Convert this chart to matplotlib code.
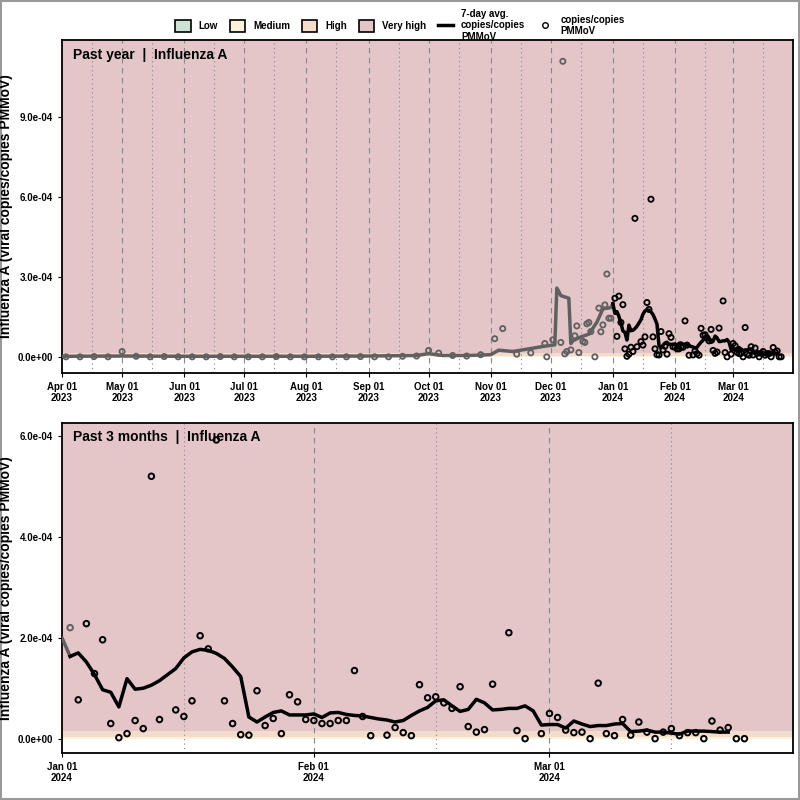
import matplotlib
matplotlib.use("Agg")
import matplotlib.pyplot as plt
import matplotlib.dates as mdates
from matplotlib.patches import Patch
from matplotlib.lines import Line2D
import numpy as np
import pandas as pd

plt.rcParams['font.family'] = ['Liberation Sans', 'DejaVu Sans']
plt.rcParams['font.weight'] = 'bold'

# ---- data: last 3 months (days after 2024-01-01) ----
pt_day = [1,3,2,5,4,6,7,8,9,10,11,12,14,15,16,17,18,19,20,21,22,23,24,25,26,27,28,29,30,31,32,33,34,35,36,37,38,40,41,
          42,43,44,45,46,47,48,49,50,51,52,53,55,56,57,59,60,61,62,63,64,65,66,67,68,69,70,71,72,73,74,75,76,77,78,79,80,81,82,83,84]
pt_val = [2.2,2.28,0.77,1.96,1.29,0.3,0.02,0.1,0.36,0.2,5.2,0.38,0.57,0.44,0.75,2.04,1.78,5.92,0.75,0.3,0.08,0.07,0.95,0.26,0.4,0.1,0.87,0.73,0.38,0.36,0.3,0.3,0.36,0.36,1.35,0.44,0.06,0.07,0.22,
          0.12,0.06,1.07,0.81,0.83,0.71,0.6,1.03,0.24,0.13,0.18,1.08,2.1,0.16,0.0,0.1,0.5,0.42,0.17,0.12,0.13,0.0,1.1,0.1,0.06,0.38,0.07,0.33,0.13,0.0,0.13,0.2,0.06,0.12,0.12,0.0,0.35,0.17,0.22,0.0,0.0]
avg_val = [2.0,1.63,1.7,1.52,1.27,0.97,0.92,0.63,1.19,0.98,1.0,1.06,1.15,1.27,1.39,1.6,1.72,1.77,1.75,1.69,1.59,1.42,1.23,0.43,0.33,0.43,0.52,0.55,0.47,0.47,0.47,0.49,0.42,0.51,0.52,0.48,0.46,0.45,0.42,0.39,0.37,0.33,
           0.36,0.46,0.55,0.62,0.75,0.77,0.65,0.54,0.58,0.78,0.71,0.57,0.58,0.6,0.6,0.65,0.55,0.27,0.28,0.28,0.21,0.35,0.29,0.24,0.26,0.26,0.29,0.3,0.14,0.15,0.17,0.13,0.13,0.11,0.09,0.15,0.15,0.15,0.14,0.13,0.13]

# ---- data: earlier year (grey) ----
early_pt_dates = ["2023-04-03","2023-04-10","2023-04-17","2023-04-24","2023-05-01","2023-05-08","2023-05-15","2023-05-22","2023-05-29",
                  "2023-06-05","2023-06-12","2023-06-19","2023-06-26","2023-07-03","2023-07-10","2023-07-17","2023-07-24","2023-07-31",
                  "2023-08-07","2023-08-14","2023-08-21","2023-08-28","2023-09-04","2023-09-11","2023-09-18","2023-09-25","2023-10-01",
                  "2023-10-06","2023-10-13","2023-10-20","2023-10-27","2023-11-03","2023-11-07","2023-11-14","2023-11-21","2023-11-28",
                  "2023-11-29","2023-12-02","2023-12-06","2023-12-07","2023-12-08","2023-12-09","2023-12-11","2023-12-13","2023-12-14",
                  "2023-12-15","2023-12-17","2023-12-18","2023-12-19","2023-12-20","2023-12-21","2023-12-23","2023-12-25","2023-12-26",
                  "2023-12-27","2023-12-28","2023-12-29","2023-12-30","2023-12-31"]
early_pt_val = [0.0,0.0,0.01,0.0,0.2,0.02,0.0,0.01,0.0,0.0,0.0,0.01,0.0,0.0,0.0,0.01,0.0,0.0,0.0,0.0,0.0,0.01,0.0,0.0,0.02,0.03,0.24,
                0.14,0.05,0.03,0.08,0.68,1.06,0.1,0.15,0.5,0.0,0.64,0.54,11.1,0.11,0.2,0.26,0.79,1.16,0.16,0.58,0.54,1.24,1.29,0.95,0.0,
                1.83,0.94,1.2,1.95,3.11,1.45,1.45]
early_avg_dates = ["2023-04-01","2023-05-01","2023-06-01","2023-07-01","2023-08-01","2023-09-01","2023-09-25","2023-10-01","2023-10-08",
                   "2023-10-20","2023-11-01","2023-11-05","2023-11-12","2023-11-20","2023-11-28","2023-12-03","2023-12-04","2023-12-05",
                   "2023-12-06","2023-12-10","2023-12-11","2023-12-12","2023-12-16","2023-12-20","2023-12-24","2023-12-27","2023-12-31","2024-01-01"]
early_avg_val = [0.02,0.03,0.02,0.02,0.02,0.03,0.05,0.12,0.05,0.05,0.08,0.25,0.2,0.3,0.4,0.45,2.58,2.45,2.3,2.2,0.5,0.6,0.75,0.85,1.3,1.8,1.85,2.0]

band_edges = [0.0, 0.03, 0.16, 100.0]   # medium, high, very high (x1e-4)
band_colors = {"Low": "#cfe3d4", "Medium": "#fbf0d8", "High": "#f4dccc", "Very high": "#e4c6c9"}

S = 1e-4
jan1 = pd.Timestamp("2024-01-01")
pt_dates = [jan1 + pd.Timedelta(days=d) for d in pt_day]
avg_dates = [jan1 + pd.Timedelta(days=d) for d in range(len(avg_val))]
e_pt = pd.to_datetime(early_pt_dates)
e_avg = pd.to_datetime(early_avg_dates)

fig = plt.figure(figsize=(8, 8), dpi=100)
fig.patch.set_edgecolor("#999999"); fig.patch.set_linewidth(1.5)

def bands(ax):
    ax.axhspan(band_edges[0]*S, band_edges[1]*S, color=band_colors["Medium"], zorder=0, lw=0)
    ax.axhspan(band_edges[1]*S, band_edges[2]*S, color=band_colors["High"], zorder=0, lw=0)
    ax.axhspan(band_edges[2]*S, band_edges[3]*S, color=band_colors["Very high"], zorder=0, lw=0)

def style(ax):
    for s in ax.spines.values():
        s.set_linewidth(1.3)
    ax.tick_params(axis='both', labelsize=7, length=3)
    ax.yaxis.set_major_formatter(plt.FuncFormatter(lambda v, p: f"{v:.1e}"))
    ax.set_ylabel("Influenza A (viral copies/copies PMMoV)", fontsize=10, fontweight='bold', labelpad=3)

# top panel
ax1 = fig.add_axes([0.0775, 0.534, 0.914, 0.416])
bands(ax1)
start, end = pd.Timestamp("2023-04-01"), pd.Timestamp("2024-03-31")
months = pd.date_range(start, "2024-03-01", freq="MS")
for m in months[1:]:
    ax1.axvline(m, color="#888888", ls=(0, (5, 4)), lw=0.8, zorder=1)
for m in months:
    ax1.axvline(m + pd.Timedelta(days=15), color="#888888", ls=(0, (1, 3)), lw=0.8, zorder=1)
ax1.plot(e_avg, np.array(early_avg_val)*S, color="#606060", lw=2.5, zorder=3)
ax1.plot(avg_dates, np.array(avg_val)*S, color="black", lw=2.5, zorder=4)
ax1.scatter(e_pt, np.array(early_pt_val)*S, s=14, facecolors='none', edgecolors="#606060", lw=1.3, zorder=3)
ax1.scatter(pt_dates, np.array(pt_val)*S, s=14, facecolors='none', edgecolors="black", lw=1.3, zorder=5)
ax1.set_xlim(start, end)
ax1.set_ylim(-0.6e-4, 11.9e-4)
ax1.set_yticks([0, 3e-4, 6e-4, 9e-4])
ax1.set_xticks(months)
ax1.set_xticklabels([m.strftime("%b %d\n%Y") for m in months])
style(ax1)
ax1.text(0.015, 0.975, "Past year  |  Influenza A", transform=ax1.transAxes, fontsize=10, fontweight='bold', va='top')

# bottom panel
ax2 = fig.add_axes([0.0775, 0.059, 0.914, 0.4125])
bands(ax2)
m2 = pd.date_range("2024-01-01", "2024-03-01", freq="MS")
for m in m2[1:]:
    ax2.axvline(m, color="#888888", ls=(0, (5, 4)), lw=0.8, zorder=1)
for m in m2:
    ax2.axvline(m + pd.Timedelta(days=15), color="#888888", ls=(0, (1, 3)), lw=0.8, zorder=1)
ax2.plot([pd.Timestamp("2023-12-31"), avg_dates[0], avg_dates[1]], [1.85*S, avg_val[0]*S, avg_val[1]*S], color="#606060", lw=2.5, zorder=3)
ax2.plot(avg_dates[1:], np.array(avg_val[1:])*S, color="black", lw=2.5, zorder=4)
cols = ["#606060" if d == 1 else "black" for d in pt_day]
ax2.scatter(pt_dates, np.array(pt_val)*S, s=16, facecolors='none', edgecolors=cols, lw=1.4, zorder=5)
ax2.set_xlim(jan1, pd.Timestamp("2024-03-31"))
ax2.set_ylim(-0.28e-4, 6.26e-4)
ax2.set_yticks([0, 2e-4, 4e-4, 6e-4])
ax2.set_xticks(m2)
ax2.set_xticklabels([m.strftime("%b %d\n%Y") for m in m2])
style(ax2)
ax2.text(0.015, 0.978, "Past 3 months  |  Influenza A", transform=ax2.transAxes, fontsize=10, fontweight='bold', va='top')

# legend
handles = [Patch(facecolor=band_colors[k], edgecolor="black", lw=1.2, label=k) for k in band_colors]
handles += [Line2D([0], [0], color="black", lw=2.5, label="7-day avg.\ncopies/copies\nPMMoV"),
            Line2D([0], [0], marker='o', ls='none', markerfacecolor='none', markeredgecolor='black', markersize=4, label="copies/copies\nPMMoV")]
fig.legend(handles=handles, loc='upper center', bbox_to_anchor=(0.5, 1.0), ncol=6, frameon=False, fontsize=7,
           handlelength=1.6, handleheight=1.6, columnspacing=1.2, handletextpad=0.8)

fig.savefig("out.png", dpi=100)
